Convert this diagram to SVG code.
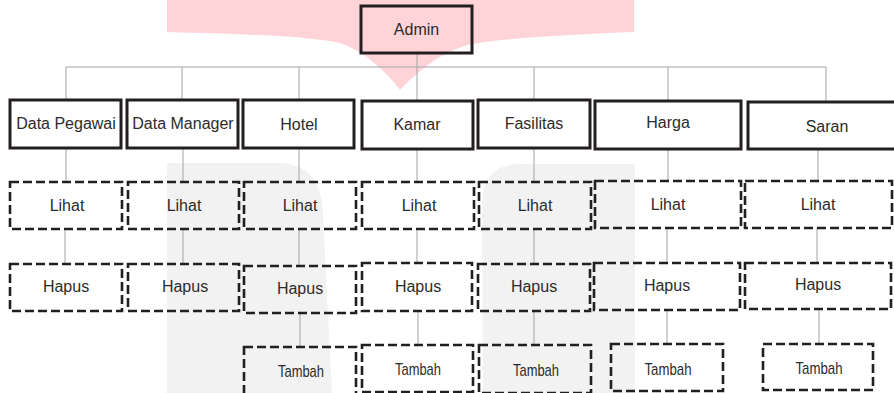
<svg xmlns="http://www.w3.org/2000/svg" width="894" height="393" viewBox="0 0 894 393">
<style>
.bg{fill:#ffffff}
.wm-pink{fill:#ffd4d8}
.wm-gray{fill:#f2f2f2}
.solid{fill:none;stroke:#231f20;stroke-width:3}
.dash{fill:none;stroke:#231f20;stroke-width:2.6;stroke-dasharray:9 4}
.conn{fill:none;stroke:#a3a3a3;stroke-width:1}
text{font-family:"Liberation Sans",Arial,sans-serif;font-size:16px;fill:#2b2b2b;text-anchor:middle}
.tb{font-size:17px}
</style>
<rect class="bg" x="0" y="0" width="894" height="393"/>
<g id="watermark">
<path class="wm-pink" d="M167,0 L634,0 L634,32 C565,35 505,38 472,44 C440,52 420,70 400,90 C385,70 365,52 340,43 C300,35 230,34 167,32 Z"/>
<path class="wm-gray" d="M167,163 L277,163 Q323,163 323,217 L332,393 L167,393 Z"/>
<path class="wm-gray" d="M520,164 L635,164 L635,393 L483,393 L482,205 Q482,164 520,164 Z"/>
</g>
<g id="connectors">
<line class="conn" x1="417" y1="53" x2="417" y2="101"/>
<line class="conn" x1="66" y1="67" x2="826" y2="67"/>
<line class="conn" x1="66" y1="67" x2="66" y2="100"/>
<line class="conn" x1="182" y1="67" x2="182" y2="100"/>
<line class="conn" x1="299" y1="67" x2="299" y2="100"/>
<line class="conn" x1="534" y1="67" x2="534" y2="100"/>
<line class="conn" x1="668" y1="67" x2="668" y2="101"/>
<line class="conn" x1="826" y1="67" x2="826" y2="102"/>
<line class="conn" x1="66" y1="148" x2="66" y2="182"/>
<line class="conn" x1="183" y1="148" x2="183" y2="182"/>
<line class="conn" x1="299" y1="148" x2="299" y2="182"/>
<line class="conn" x1="417" y1="149" x2="417" y2="182"/>
<line class="conn" x1="534" y1="148" x2="534" y2="182"/>
<line class="conn" x1="668" y1="149" x2="668" y2="181"/>
<line class="conn" x1="818" y1="149" x2="818" y2="181"/>
<line class="conn" x1="65" y1="229" x2="65" y2="264"/>
<line class="conn" x1="183" y1="229" x2="183" y2="264"/>
<line class="conn" x1="299" y1="229" x2="299" y2="266"/>
<line class="conn" x1="417" y1="229" x2="417" y2="263"/>
<line class="conn" x1="534" y1="229" x2="534" y2="264"/>
<line class="conn" x1="667" y1="228" x2="667" y2="263"/>
<line class="conn" x1="817" y1="228" x2="817" y2="263"/>
<line class="conn" x1="300" y1="313" x2="300" y2="347"/>
<line class="conn" x1="418" y1="311" x2="418" y2="345"/>
<line class="conn" x1="534" y1="311" x2="534" y2="345"/>
<line class="conn" x1="667" y1="310" x2="667" y2="344"/>
<line class="conn" x1="819" y1="309" x2="819" y2="344"/>
</g>
<g id="admin"><rect class="solid" x="361" y="6" width="111" height="47"/><text x="416.5" y="35">Admin</text></g>
<g id="data-pegawai"><rect class="solid" x="10" y="100" width="111" height="48"/><text x="66" y="129">Data Pegawai</text></g>
<g id="data-manager"><rect class="solid" x="127" y="100" width="111" height="48"/><text x="183" y="129">Data Manager</text></g>
<g id="hotel"><rect class="solid" x="243" y="100" width="111" height="48"/><text x="299" y="130">Hotel</text></g>
<g id="kamar"><rect class="solid" x="362" y="101" width="111" height="48"/><text x="417" y="130">Kamar</text></g>
<g id="fasilitas"><rect class="solid" x="478" y="100" width="112" height="48"/><text x="534" y="129">Fasilitas</text></g>
<g id="harga"><rect class="solid" x="595" y="101" width="146" height="48"/><text x="668" y="128">Harga</text></g>
<g id="saran"><rect class="solid" x="748" y="102" width="160" height="47"/><text x="827" y="132">Saran</text></g>
<g id="lihat-1"><rect class="dash" x="10" y="182" width="112" height="47"/><text x="67" y="211">Lihat</text></g>
<g id="lihat-2"><rect class="dash" x="128" y="182" width="111" height="47"/><text x="184" y="211">Lihat</text></g>
<g id="lihat-3"><rect class="dash" x="244" y="182" width="112" height="47"/><text x="300" y="211">Lihat</text></g>
<g id="lihat-4"><rect class="dash" x="362" y="182" width="112" height="47"/><text x="419" y="211">Lihat</text></g>
<g id="lihat-5"><rect class="dash" x="479" y="182" width="112" height="47"/><text x="535" y="211">Lihat</text></g>
<g id="lihat-6"><rect class="dash" x="595" y="181" width="146" height="47"/><text x="668" y="210">Lihat</text></g>
<g id="lihat-7"><rect class="dash" x="745" y="181" width="147" height="47"/><text x="818" y="210">Lihat</text></g>
<g id="hapus-1"><rect class="dash" x="10" y="264" width="112" height="47"/><text x="66" y="292">Hapus</text></g>
<g id="hapus-2"><rect class="dash" x="128" y="264" width="111" height="47"/><text x="185" y="292">Hapus</text></g>
<g id="hapus-3"><rect class="dash" x="244" y="266" width="112" height="47"/><text x="300" y="294">Hapus</text></g>
<g id="hapus-4"><rect class="dash" x="362" y="263" width="110" height="48"/><text x="418" y="292">Hapus</text></g>
<g id="hapus-5"><rect class="dash" x="478" y="264" width="112" height="47"/><text x="534" y="292">Hapus</text></g>
<g id="hapus-6"><rect class="dash" x="594" y="263" width="146" height="47"/><text x="667" y="291">Hapus</text></g>
<g id="hapus-7"><rect class="dash" x="745" y="263" width="146" height="46"/><text x="818" y="290">Hapus</text></g>
<g id="tambah-3"><rect class="dash" x="244" y="347" width="112" height="48"/><text class="tb" x="301" y="377" textLength="46" lengthAdjust="spacingAndGlyphs">Tambah</text></g>
<g id="tambah-4"><rect class="dash" x="362" y="345" width="111" height="47"/><text class="tb" x="418" y="375" textLength="46" lengthAdjust="spacingAndGlyphs">Tambah</text></g>
<g id="tambah-5"><rect class="dash" x="479" y="345" width="112" height="48"/><text class="tb" x="536" y="376" textLength="46" lengthAdjust="spacingAndGlyphs">Tambah</text></g>
<g id="tambah-6"><rect class="dash" x="611" y="344" width="112" height="47"/><text class="tb" x="668" y="375" textLength="47" lengthAdjust="spacingAndGlyphs">Tambah</text></g>
<g id="tambah-7"><rect class="dash" x="763" y="344" width="110" height="46"/><text class="tb" x="819" y="374" textLength="47" lengthAdjust="spacingAndGlyphs">Tambah</text></g>
</svg>
